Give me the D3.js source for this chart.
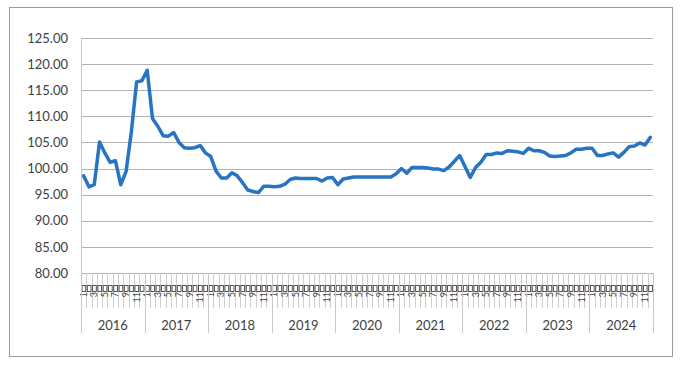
<!DOCTYPE html>
<html><head><meta charset="utf-8">
<script src="https://cdn.jsdelivr.net/npm/d3@7"></script>
<style>html,body{margin:0;padding:0;background:#fff;}svg{display:block;font-family:Lato,"Liberation Sans",sans-serif;}</style>
</head><body>
<svg id="c" width="683" height="368"></svg>
<script>
const years = ["2016","2017","2018","2019","2020","2021","2022","2023","2024"];
const monthLabels = ["1","","3","","5","","7","","9","","11",""];
const yTicks = [80,85,90,95,100,105,110,115,120,125];
const values = [
 98.6,96.5,96.9,105.1,103.0,101.2,101.5,96.9,99.4,107.0,116.6,116.8,
 118.8,109.6,108.1,106.3,106.2,106.9,105.0,104.0,103.9,104.0,104.4,103.0,
 102.3,99.5,98.2,98.2,99.2,98.6,97.3,95.9,95.6,95.4,96.6,96.6,
 96.5,96.6,97.0,97.9,98.2,98.1,98.1,98.1,98.1,97.6,98.2,98.3,
 96.9,98.0,98.2,98.4,98.4,98.4,98.4,98.4,98.4,98.4,98.4,99.0,
 100.0,99.1,100.2,100.2,100.2,100.1,99.9,99.9,99.6,100.3,101.4,102.5,
 100.4,98.3,100.2,101.2,102.7,102.7,103.0,102.9,103.4,103.3,103.2,102.9,
 103.9,103.4,103.4,103.1,102.4,102.3,102.4,102.5,103.0,103.7,103.7,103.9,
 103.9,102.5,102.5,102.8,103.0,102.2,103.1,104.2,104.3,104.9,104.5,106.0
];

const svg = d3.select("#c");
const L = 81, R = 653, T = 38, B = 273;
const keys = [];
years.forEach(y => { for (let m = 0; m < 12; m++) keys.push(y + "-" + m); });

const x = d3.scaleBand().domain(keys).range([L, R]).padding(0);
const y = d3.scaleLinear().domain([80, 125]).range([B, T]);

// outer frame
svg.append("rect").attr("x", 9.5).attr("y", 7.5).attr("width", 663).attr("height", 349)
  .attr("fill", "#fff").attr("stroke", "#9a9a9a").attr("stroke-width", 1);

// gridlines
svg.append("g").selectAll("line").data(yTicks).join("line")
  .attr("x1", L).attr("x2", R)
  .attr("y1", d => Math.round(y(d)) + 0.5).attr("y2", d => Math.round(y(d)) + 0.5)
  .attr("stroke", "#b3b3b3").attr("stroke-width", 1.2);
// left axis line
svg.append("line").attr("x1", L + 0.5).attr("x2", L + 0.5).attr("y1", T).attr("y2", B)
  .attr("stroke", "#c8c8c8");

// y labels
const yAxis = d3.axisLeft(y).tickValues(yTicks).tickFormat(d3.format(".2f")).tickSize(0).tickPadding(13);
const ya = svg.append("g").attr("transform", `translate(${L},0)`).call(yAxis);
ya.select(".domain").remove();
ya.selectAll("text").attr("font-size", 13).attr("fill", "#404040").attr("font-family", "Lato,'Liberation Sans',sans-serif");

// month ticks
const mg = svg.append("g");
keys.forEach((k, i) => {
  const x0 = Math.round(x(k)) + 0.5;
  mg.append("line").attr("x1", x0).attr("x2", x0).attr("y1", B).attr("y2", 308)
    .attr("stroke", "#cfcfcf").attr("stroke-width", 1);
});
mg.append("line").attr("x1", R + 0.5).attr("x2", R + 0.5).attr("y1", B).attr("y2", 333).attr("stroke", "#c8c8c8");
// label boxes
keys.forEach((k, i) => {
  mg.append("rect").attr("x", x(k) + 1).attr("y", 285.5).attr("width", x.bandwidth() - 1.6).attr("height", 6)
    .attr("fill", "none").attr("stroke", "#444").attr("stroke-width", 0.9);
});
// rotated month labels
keys.forEach((k, i) => {
  const lab = monthLabels[i % 12];
  if (!lab) return;
  const cx = x(k) + x.bandwidth() / 2;
  mg.append("text").attr("transform", `translate(${cx + 3},292) rotate(-90)`)
    .attr("text-anchor", "end").attr("font-size", 9).attr("fill", "#404040").text(lab);
});
// year separators and labels
years.forEach((yr, j) => {
  const x0 = Math.round(x(yr + "-0")) + 0.5;
  mg.append("line").attr("x1", x0).attr("x2", x0).attr("y1", B).attr("y2", 333)
    .attr("stroke", "#c8c8c8").attr("stroke-width", 1);
  const cx = x(yr + "-0") + 6 * x.bandwidth();
  mg.append("text").attr("x", cx).attr("y", 330).attr("text-anchor", "middle")
    .attr("font-size", 13).attr("fill", "#404040").text(yr);
});

// line
const line = d3.line().x((d, i) => x(keys[i]) + x.bandwidth() / 2).y(d => y(d));
svg.append("path").datum(values).attr("d", line).attr("fill", "none")
  .attr("stroke", "#2674c2").attr("stroke-width", 3.5).attr("stroke-linejoin", "round").attr("stroke-linecap", "round");
</script>
</body></html>
